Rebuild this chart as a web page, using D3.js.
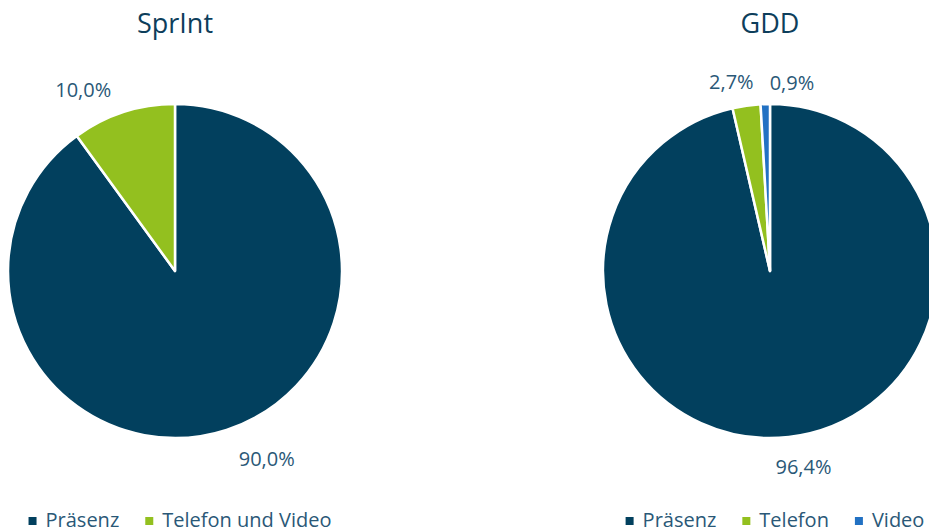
<!DOCTYPE html>
<html>
<head>
<meta charset="utf-8">
<script src="https://cdn.jsdelivr.net/npm/d3@7"></script>
<style>
  html, body { margin: 0; padding: 0; background: #fff; }
  svg { display: block; font-family: "Open Sans", "Noto Sans", sans-serif; }
</style>
</head>
<body>
<div id="chart"></div>
<script>
// data
const sprintCategories = ['Präsenz', 'Telefon und Video'];
const sprintValues     = [90.0, 10.0];
const gddCategories    = ['Präsenz', 'Telefon', 'Video'];
const gddValues        = [96.4, 2.7, 0.9];
const charts = [
  { title: 'SprInt', categories: sprintCategories, values: sprintValues, cx: 175 },
  { title: 'GDD',    categories: gddCategories,    values: gddValues,    cx: 770 }
];

const colorMap = {
  'Präsenz': '#02405e',
  'Telefon und Video': '#93c01f',
  'Telefon': '#93c01f',
  'Video': '#2271c3'
};

const W = 929, H = 532;
const cy = 271, radius = 167;
const fmt = v => d3.format('.1f')(v).replace('.', ',') + '%';

const svg = d3.select('#chart').append('svg')
  .attr('width', W).attr('height', H);

charts.forEach(c => {
  const g = svg.append('g').attr('transform', `translate(${c.cx}, ${cy})`);

  const pie = d3.pie().sort(null).value(d => d.value);
  const arcs = pie(c.categories.map((k, i) => ({ key: k, value: c.values[i] })));
  const arc = d3.arc().innerRadius(0).outerRadius(radius);

  g.selectAll('path.slice')
    .data(arcs)
    .enter().append('path')
    .attr('class', 'slice')
    .attr('d', arc)
    .attr('fill', d => colorMap[d.data.key])
    .attr('stroke', '#fff')
    .attr('stroke-width', 2.5)
    .attr('stroke-linejoin', 'round');

  // outside-end labels, near corner of text box on radius
  const labelR = 186;
  const labels = arcs.map(d => {
    const a = (d.startAngle + d.endAngle) / 2;
    const t = g.append('text')
      .attr('font-size', 20)
      .attr('fill', '#2a5877')
      .attr('text-anchor', 'middle')
      .text(fmt(d.data.value));
    const w = t.node().getComputedTextLength();
    const px = Math.sin(a) * labelR, py = -Math.cos(a) * labelR;
    const k = Math.min(1, Math.abs(Math.sin(a)) * 3) * Math.sign(Math.sin(a));
    return { t, w, x: px + k * w * 0.66, y: py - Math.cos(a) * 8 + 3 };
  });
  // push overlapping labels apart (left to right)
  labels.sort((a, b) => a.x - b.x);
  for (let i = 1; i < labels.length; i++) {
    const p = labels[i - 1], q = labels[i];
    if (Math.abs(p.y - q.y) < 20) {
      const minX = p.x + p.w / 2 + 16 + q.w / 2;
      if (q.x < minX) { q.x = minX; q.y += 3; }
    }
  }
  labels.forEach(l => l.t.attr('x', l.x).attr('y', l.y).attr('dy', '0.35em'));

  // title
  svg.append('text')
    .attr('x', c.cx).attr('y', 33)
    .attr('text-anchor', 'middle')
    .attr('font-size', 27)
    .attr('fill', '#0d3e5b')
    .text(c.title);

  // legend
  const gap = 26;
  const lg = svg.append('g');
  let x = 0;
  c.categories.forEach(k => {
    const item = lg.append('g').attr('transform', `translate(${x}, 0)`);
    item.append('rect')
      .attr('x', 0).attr('y', -10)
      .attr('width', 8).attr('height', 8)
      .attr('fill', colorMap[k]);
    const t = item.append('text')
      .attr('x', 17).attr('y', 0)
      .attr('font-size', 20)
      .attr('fill', '#2a5877')
      .text(k);
    x += 17 + t.node().getComputedTextLength() + gap;
  });
  const lw = x - gap;
  lg.attr('transform', `translate(${c.cx + 5 - lw / 2}, 527)`);
});
</script>
</body>
</html>
